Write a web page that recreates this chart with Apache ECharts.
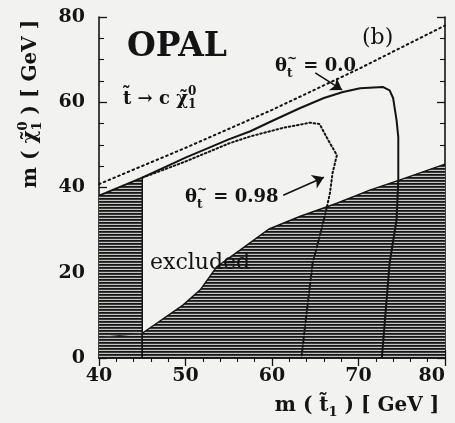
<!DOCTYPE html>
<html>
<head>
<meta charset="utf-8">
<script src="https://cdn.jsdelivr.net/npm/echarts@6/dist/echarts.min.js"></script>
<style>
  html, body { margin: 0; padding: 0; background: #f2f2f0; }
  #chart { width: 455px; height: 423px; }
</style>
</head>
<body>
<div id="chart"></div>
<script>
// Axis ranges and tick labels
const xTicks = [40, 50, 60, 70, 80];
const yTicks = [0, 20, 40, 60, 80];

// Kinematic limit m(chi) < m(stop) - m(c)
const limitStop = [40, 50, 60, 70, 80];
const limitChi  = [40.8, 49.3, 58.2, 67.8, 78.0];

// 95% CL contour, mixing angle 0.0
const mix00Stop = [40, 45, 50, 55, 57.5, 60, 63.2, 66, 68.2, 70.2, 72.8, 73.6, 74.0, 74.4, 74.6, 74.6, 74.4, 73.6, 72.7];
const mix00Chi  = [38.1, 42.3, 47.0, 51.3, 53.2, 55.6, 58.6, 61.0, 62.4, 63.3, 63.6, 62.8, 61.0, 55.8, 51.8, 41.8, 32.4, 22.3, 0];

// 95% CL contour, mixing angle 0.98
const mix098Stop = [45, 50, 55.1, 57.5, 61.3, 64.4, 65.5, 66.5, 67.5, 67.0, 66.7, 66.3, 65.7, 64.7, 64.0, 63.4];
const mix098Chi  = [42.3, 46.1, 50.4, 52.0, 54.0, 55.2, 54.9, 51.1, 47.6, 43.4, 38.7, 35.0, 30.0, 22.3, 10.5, 0];

// Region excluded at LEP1 (left band)
const lep1Stop = [40, 45];
const lep1Chi  = [38.1, 42.3];

// Lower excluded region
const exclStop = [45, 45, 49.7, 51.7, 53.6, 56.3, 59.6, 63.2, 67.5, 71.3, 74.8, 80];
const exclChi  = [0, 5.8, 12.4, 16.0, 21.4, 25.3, 30.2, 33.2, 36.3, 39.4, 41.8, 45.5];

// Old boundary line running through the left band
const innerStop = [40, 45];
const innerChi  = [4.8, 5.8];

// Annotation arrows [from, to] in (m(stop), m(chi))
const arrow00  = [[65.0, 66.9], [68.1, 62.9]];
const arrow098 = [[61.3, 38.2], [66.0, 42.4]];

const zip = (xs, ys) => xs.map((x, i) => [x, ys[i]]);
const ink = '#141414';
const FONT = '"DejaVu Serif"';

// Horizontal-line hatching used for the excluded areas
function hatch() {
  const c = document.createElement('canvas');
  c.width = 6; c.height = 3;
  const g = c.getContext('2d');
  g.fillStyle = '#161616'; g.fillRect(0, 0, 6, 1);
  g.fillStyle = '#3a3a3a'; g.fillRect(0, 1, 6, 1);
  g.fillStyle = '#c4c4c2'; g.fillRect(0, 2, 6, 1);
  return { image: c, repeat: 'repeat' };
}

// Text with sub/superscripts, laid out piece by piece
const mctx = document.createElement('canvas').getContext('2d');
function fontStr(size, bold) { return (bold ? 'bold ' : '') + size + 'px ' + FONT; }
function tw(t, size, bold) { mctx.font = fontStr(size, bold); return mctx.measureText(t).width; }
function richRow(parts, bold) {
  let cx = 0;
  const children = [];
  parts.forEach(p => {
    const list = p.stack || [p];
    let w = 0;
    list.forEach(q => {
      children.push({
        type: 'text', x: cx, y: q.dy || 0, silent: true,
        style: { text: q.t, font: fontStr(q.s, bold), fill: ink, align: 'left', verticalAlign: 'middle' }
      });
      w = Math.max(w, tw(q.t, q.s, bold));
    });
    cx += w;
  });
  return { children, width: cx };
}
function textGroup(x, y, parts, bold, opts) {
  const r = richRow(parts, bold);
  const o = opts || {};
  const shift = o.center ? -r.width / 2 : 0;
  r.children.forEach(c => { c.x += shift; });
  return { type: 'group', x, y, rotation: o.rotation || 0, z: 10, children: r.children };
}

const pat = hatch();
const chart = echarts.init(document.getElementById('chart'), null, { renderer: 'canvas' });

const axisFont = { fontFamily: FONT, fontWeight: 'bold', fontSize: 19, color: ink };
const frameLine = { show: true, lineStyle: { color: ink, width: 1.6 } };
const majorTick = { show: true, inside: true, length: 8, lineStyle: { color: ink, width: 1.3 } };

chart.setOption({
  backgroundColor: '#f2f2f0',
  animation: false,
  grid: { left: 99, right: 10, top: 17, bottom: 65, containLabel: false, outerBoundsMode: 'none' },
  xAxis: [
    {
      type: 'value', min: xTicks[0], max: xTicks[xTicks.length - 1], interval: 10,
      axisLine: frameLine, axisTick: majorTick,
      minorTick: { show: true, splitNumber: 5, length: 4, lineStyle: { color: ink, width: 1.1 } },
      splitLine: { show: false },
      axisLabel: Object.assign({ margin: 9, alignMaxLabel: 'right' }, axisFont)
    },
    {
      type: 'value', position: 'top', min: xTicks[0], max: xTicks[xTicks.length - 1], interval: 10,
      axisLine: frameLine, axisTick: majorTick,
      minorTick: { show: true, splitNumber: 5, length: 4, lineStyle: { color: ink, width: 1.1 } },
      splitLine: { show: false }, axisLabel: { show: false }
    }
  ],
  yAxis: [
    {
      type: 'value', min: yTicks[0], max: yTicks[yTicks.length - 1], interval: 20,
      axisLine: frameLine, axisTick: majorTick,
      minorTick: { show: true, splitNumber: 4, length: 5, lineStyle: { color: ink, width: 1.1 } },
      splitLine: { show: false },
      axisLabel: Object.assign({ margin: 14 }, axisFont)
    },
    {
      type: 'value', position: 'right', min: yTicks[0], max: yTicks[yTicks.length - 1], interval: 20,
      axisLine: frameLine, axisTick: majorTick,
      minorTick: { show: true, splitNumber: 4, length: 5, lineStyle: { color: ink, width: 1.1 } },
      splitLine: { show: false }, axisLabel: { show: false }
    }
  ],
  series: [
    {
      name: 'LEP1 band', type: 'line', data: zip(lep1Stop, lep1Chi), symbol: 'none', silent: true,
      lineStyle: { width: 0 }, areaStyle: { color: pat, opacity: 1, origin: 'start' }, z: 1
    },
    {
      name: 'excluded', type: 'line', data: zip(exclStop, exclChi), symbol: 'none', silent: true,
      lineStyle: { color: ink, width: 1.4 }, areaStyle: { color: pat, opacity: 1, origin: 'start' }, z: 1
    },
    {
      name: 'band edge', type: 'line', data: [[lep1Stop[1], 0], [lep1Stop[1], lep1Chi[1]]], symbol: 'none', silent: true,
      lineStyle: { color: ink, width: 1.5 }, z: 2
    },
    {
      name: 'inner edge', type: 'line', data: zip(innerStop, innerChi), symbol: 'none', silent: true,
      lineStyle: { color: '#333', width: 1 }, z: 2
    },
    {
      name: 'limit', type: 'line', data: zip(limitStop, limitChi), symbol: 'none', silent: true,
      lineStyle: { color: ink, width: 2, type: [1.6, 3.6], cap: 'round' }, z: 3
    },
    {
      name: 'theta 0.0', type: 'line', data: zip(mix00Stop, mix00Chi), symbol: 'none', silent: true,
      lineStyle: { color: ink, width: 2 }, z: 4,
      markLine: {
        silent: true, symbol: ['none', 'arrow'], symbolSize: 11,
        label: { show: false },
        lineStyle: { color: ink, width: 1.6, type: 'solid' },
        data: [
          [{ coord: arrow00[0] }, { coord: arrow00[1] }],
          [{ coord: arrow098[0] }, { coord: arrow098[1] }]
        ]
      }
    },
    {
      name: 'theta 0.98', type: 'line', data: zip(mix098Stop, mix098Chi), symbol: 'none', silent: true,
      lineStyle: { color: ink, width: 2, type: [1.6, 2.6], cap: 'round' }, z: 4
    }
  ],
  graphic: [
    { type: 'text', left: 127, top: 31, silent: true,
      style: { text: 'OPAL', font: fontStr(33, true), fill: ink } },
    { type: 'text', left: 362, top: 27, silent: true,
      style: { text: '(b)', font: fontStr(22, false), fill: ink } },
    textGroup(123, 99, [
      { t: 't\u0303', s: 18 }, { t: ' \u2192 c ', s: 18 }, { t: '\u03c7\u0303', s: 18 },
      { stack: [{ t: '0', s: 12, dy: -7 }, { t: '1', s: 12, dy: 6 }] }
    ], true),
    textGroup(275, 66, [
      { t: '\u03b8', s: 18 },
      { stack: [{ t: '~', s: 12, dy: -7 }, { t: 't', s: 12, dy: 8 }] },
      { t: ' = 0.0', s: 18 }
    ], true),
    textGroup(185, 197, [
      { t: '\u03b8', s: 18 },
      { stack: [{ t: '~', s: 12, dy: -7 }, { t: 't', s: 12, dy: 8 }] },
      { t: ' = 0.98', s: 18 }
    ], true),
    { type: 'text', left: 150, top: 252, silent: true, z: 10,
      style: { text: 'excluded', font: fontStr(22, false), fill: ink } },
    textGroup(357, 406, [
      { t: 'm ( ', s: 20 }, { t: 't\u0303', s: 20 }, { t: '1', s: 13, dy: 7 }, { t: ' ) [ GeV ]', s: 20 }
    ], true, { center: true }),
    textGroup(31, 104, [
      { t: 'm ( ', s: 20 }, { t: '\u03c7\u0303', s: 20 },
      { stack: [{ t: '0', s: 13, dy: -7 }, { t: '1', s: 13, dy: 7 }] },
      { t: ' ) [ GeV ]', s: 20 }
    ], true, { center: true, rotation: Math.PI / 2 })
  ]
});
</script>
</body>
</html>
